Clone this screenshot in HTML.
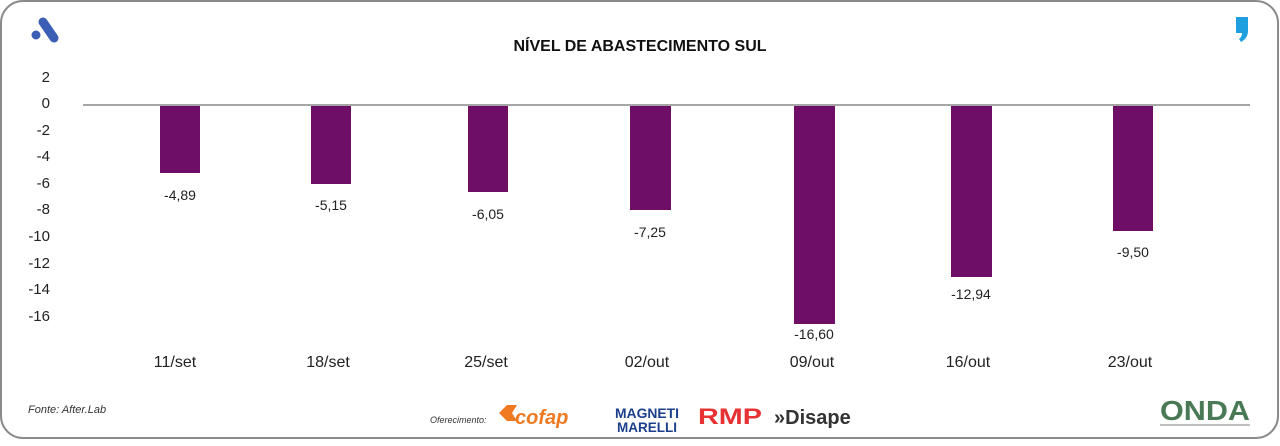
<!DOCTYPE html>
<html><head><meta charset="utf-8"><style>
body{margin:0;width:1280px;height:441px;background:#fff;overflow:hidden;font-family:"Liberation Sans",sans-serif}
</style></head><body>
<svg width="1280" height="441" xmlns="http://www.w3.org/2000/svg" font-family="Liberation Sans, sans-serif">
<rect x="1" y="1" width="1277" height="437" rx="22" fill="#fff" stroke="#8a8a8a" stroke-width="2"/>
<line x1="43" y1="22" x2="54" y2="38" stroke="#3b5fb5" stroke-width="9" stroke-linecap="round"/>
<circle cx="36" cy="35" r="4.5" fill="#3b5fb5"/>
<path d="M1236 17h12v14q0 7-7 11l-2-3q3-2 3-6h-6z" fill="#1ea0e0"/>
<text x="640" y="51" text-anchor="middle" font-size="16" font-weight="bold" fill="#111">NÍVEL DE ABASTECIMENTO SUL</text>
<g font-size="15" fill="#222" text-anchor="end">
<text x="50" y="82">2</text><text x="50" y="108">0</text><text x="50" y="135">-2</text><text x="50" y="161">-4</text><text x="50" y="188">-6</text><text x="50" y="214">-8</text><text x="50" y="241">-10</text><text x="50" y="268">-12</text><text x="50" y="294">-14</text><text x="50" y="321">-16</text>
</g>
<g fill="#6e0e66">
<rect x="160" y="106" width="40" height="67"/>
<rect x="311" y="106" width="40" height="78"/>
<rect x="468" y="106" width="40" height="86"/>
<rect x="630" y="106" width="41" height="104"/>
<rect x="794" y="106" width="41" height="218"/>
<rect x="951" y="106" width="41" height="171"/>
<rect x="1113" y="106" width="40" height="125"/>
</g>
<line x1="83" y1="105" x2="1250" y2="105" stroke="#888" stroke-width="1.5"/>
<g font-size="14" fill="#222" text-anchor="middle">
<text x="180" y="200">-4,89</text><text x="331" y="210">-5,15</text><text x="488" y="219">-6,05</text><text x="650" y="237">-7,25</text><text x="814" y="339">-16,60</text><text x="971" y="299">-12,94</text><text x="1133" y="257">-9,50</text>
</g>
<g font-size="16" fill="#222" text-anchor="middle">
<text x="175" y="367">11/set</text><text x="328" y="367">18/set</text><text x="486" y="367">25/set</text><text x="647" y="367">02/out</text><text x="812" y="367">09/out</text><text x="968" y="367">16/out</text><text x="1130" y="367">23/out</text>
</g>
<text x="28" y="413" font-size="11" font-style="italic" fill="#333">Fonte: After.Lab</text>
<text x="430" y="423" font-size="9" font-style="italic" fill="#333">Oferecimento:</text>
<path d="M499 413l8-8h10l-5 8 5 8h-10z" fill="#f07a22"/>
<text x="515" y="424" font-size="20" font-weight="bold" font-style="italic" fill="#f07a22">cofap</text>
<text x="615" y="418" font-size="14" font-weight="bold" fill="#1b3f8b" textLength="64" lengthAdjust="spacingAndGlyphs">MAGNETI</text>
<text x="617" y="432" font-size="14" font-weight="bold" fill="#1b3f8b" textLength="60" lengthAdjust="spacingAndGlyphs">MARELLI</text>
<text x="698" y="424" font-size="22" font-weight="bold" fill="#e63232" textLength="64" lengthAdjust="spacingAndGlyphs">RMP</text>
<text x="774" y="424" font-size="20" font-weight="bold" fill="#333">»Disape</text>
<text x="1160" y="420" font-size="28" font-weight="bold" fill="#4a7a55" textLength="90" lengthAdjust="spacingAndGlyphs">ONDA</text>
<line x1="1160" y1="425" x2="1250" y2="425" stroke="#aaa" stroke-width="1.5"/>
</svg>
</body></html>
